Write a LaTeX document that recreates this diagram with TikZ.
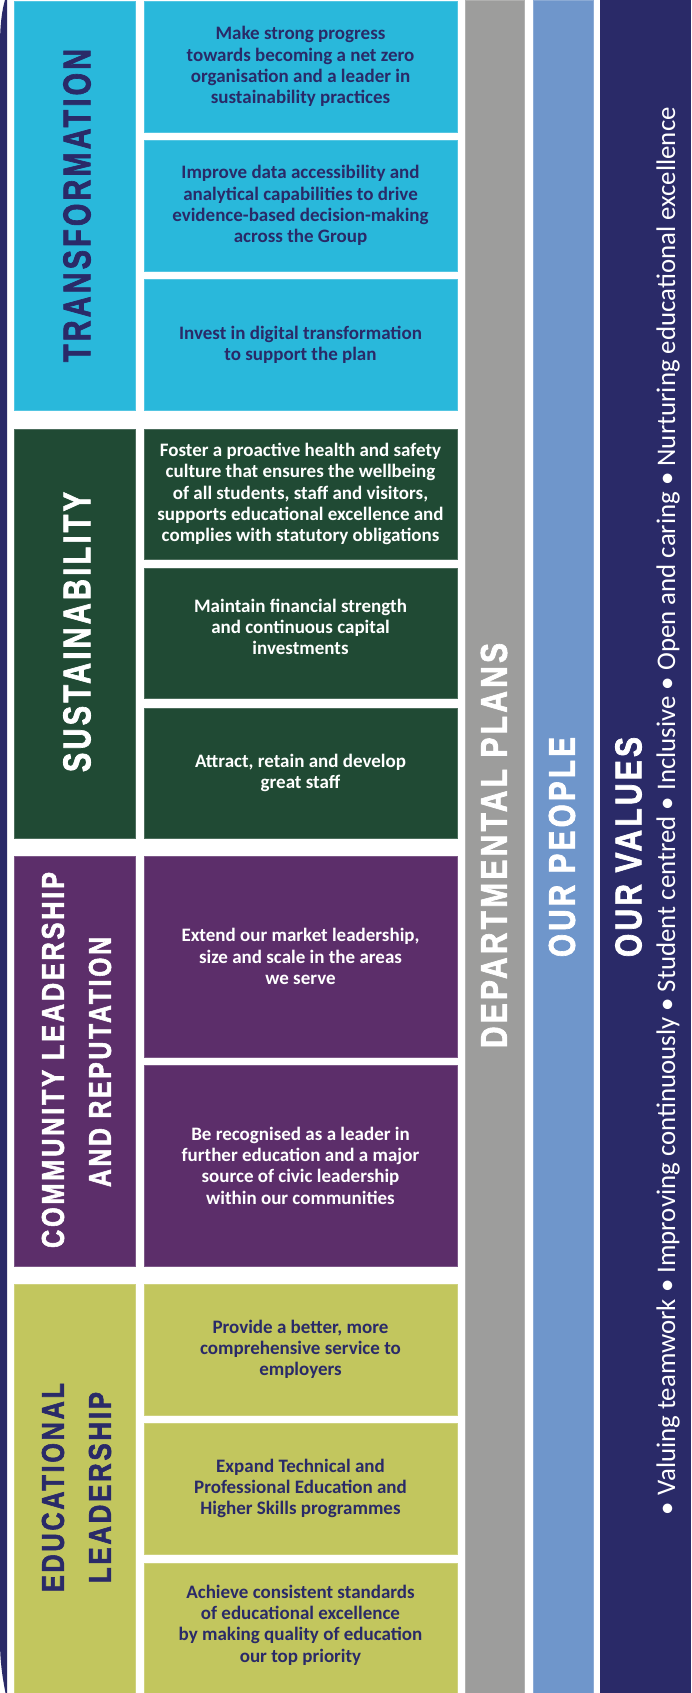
\documentclass[tikz,border=0pt]{standalone}
\usepackage{fontspec}
\usepackage{graphicx}
\newfontfamily\boxfont{Carlito}
\newfontfamily\headfont[LetterSpace=11,FakeBold=2.2]{Liberation Sans}
\newfontfamily\valfont{Carlito}
\definecolor{cyanb}{HTML}{29B8DB}
\definecolor{greenb}{HTML}{204A34}
\definecolor{purpleb}{HTML}{5C2E6A}
\definecolor{oliveb}{HTML}{C2C65E}
\definecolor{navyb}{HTML}{2A2A68}
\definecolor{grayb}{HTML}{9D9D9C}
\definecolor{blueb}{HTML}{6F96CB}
\tikzset{
  blk/.style={rectangle, inner sep=0pt, outer sep=0pt, line width=0.7pt},
  lab/.style={blk, minimum width=120.4pt, minimum height=409pt},
  obj/.style={blk, minimum width=313pt, minimum height=131pt},
  objtall/.style={blk, minimum width=313pt, minimum height=201pt},
  col/.style={blk, minimum height=1693pt},
  txtn/.style={align=center, inner sep=0pt, text=navyb, font=\boxfont\bfseries\fontsize{19}{21.3}\selectfont},
  txtw/.style={txtn, text=white},
  head/.style={rotate=90, inner sep=0pt}
}
\newcommand{\hd}[3]{\resizebox{#1pt}{#2pt}{\headfont\bfseries #3}}
\begin{document}
\begin{tikzpicture}[x=1pt,y=-1pt]
\useasboundingbox (0,0) rectangle (691,1693);
\fill[white] (0,0) rectangle (691,1693);
% left navy sliver
\fill[navyb] (7,0) -- (7,1693) -- (5.5,1693) .. controls (2,1675) and (0,1660) .. (0,1640) -- (0,45) .. controls (0,25) and (2,10) .. (5,0) -- cycle;

% right columns
\node[col, minimum width=59pt, fill=grayb, draw=grayb!80!white] (dep) at (494.5,846.5) {};
\node[col, minimum width=60pt, fill=blueb, draw=blueb!80!white] (peo) at (563,846.5) {};
\node[col, minimum width=91pt, fill=navyb] (val) at (645.5,846.5) {};

% Transformation
\node[lab, fill=cyanb, draw=cyanb!80!white] (ltr) at (74.8,205.5) {};
\node[obj, fill=cyanb, draw=cyanb!80!white] (t1) at (300.5,66.5) {};
\node[obj, fill=cyanb, draw=cyanb!80!white] (t2) at (300.5,205.5) {};
\node[obj, fill=cyanb, draw=cyanb!80!white] (t3) at (300.5,344.5) {};
% Sustainability
\node[lab, fill=greenb, draw=greenb!80!white] (lsu) at (74.8,633.5) {};
\node[obj, fill=greenb, draw=greenb!80!white, minimum height=130pt] (s1) at (300.5,494) {};
\node[obj, fill=greenb, draw=greenb!80!white, minimum height=130pt] (s2) at (300.5,633) {};
\node[obj, fill=greenb, draw=greenb!80!white, minimum height=130pt] (s3) at (300.5,773) {};
% Community
\node[lab, fill=purpleb, draw=purpleb!80!white, minimum height=410pt] (lco) at (74.8,1061) {};
\node[objtall, fill=purpleb, draw=purpleb!80!white] (c1) at (300.5,956.5) {};
\node[objtall, fill=purpleb, draw=purpleb!80!white] (c2) at (300.5,1165.5) {};
% Educational
\node[lab, fill=oliveb, draw=oliveb!80!white] (led) at (74.8,1488.5) {};
\node[obj, fill=oliveb, draw=oliveb!80!white] (e1) at (300.5,1349.5) {};
\node[obj, fill=oliveb, draw=oliveb!80!white] (e2) at (300.5,1488.5) {};
\node[obj, fill=oliveb, draw=oliveb!80!white, minimum height=130pt] (e3) at (300.5,1628) {};

% box texts
\node[txtn] (t1t) at (t1.center) {Make strong progress\\towards becoming a net zero\\organisation and a leader in\\sustainability practices};
\node[txtn] (t2t) at (t2.center) {Improve data accessibility and\\analytical capabilities to drive\\evidence-based decision-making\\across the Group};
\node[txtn] (t3t) at (t3.center) {Invest in digital transformation\\to support the plan};
\node[txtw] (s1t) at (s1.center) {Foster a proactive health and safety\\culture that ensures the wellbeing\\of all students, staff and visitors,\\supports educational excellence and\\complies with statutory obligations};
\node[txtw, yshift=6pt] (s2t) at (s2.center) {Maintain financial strength\\and continuous capital\\investments};
\node[txtw] (s3t) at (s3.center) {Attract, retain and develop\\great staff};
\node[txtw] (c1t) at (c1.center) {Extend our market leadership,\\size and scale in the areas\\we serve};
\node[txtw] (c2t) at (c2.center) {Be recognised as a leader in\\further education and a major\\source of civic leadership\\within our communities};
\node[txtn] (e1t) at (e1.center) {Provide a better, more\\comprehensive service to\\employers};
\node[txtn] (e2t) at (e2.center) {Expand Technical and\\Professional Education and\\Higher Skills programmes};
\node[txtn, yshift=3pt] (e3t) at (e3.center) {Achieve consistent standards\\of educational excellence\\by making quality of education\\our top priority};

% headings
\node[head, text=navyb] (htr) at (77,205.5) {\hd{313}{27}{TRANSFORMATION}};
\node[head, text=white] (hsu) at (77,632) {\hd{280}{27}{SUSTAINABILITY}};
\node[head, text=white] (hco1) at (53,1060) {\hd{376}{22}{COMMUNITY LEADERSHIP}};
\node[head, text=white] (hco2) at (100,1062) {\hd{250}{22}{AND REPUTATION}};
\node[head, text=navyb] (hed1) at (53,1487.5) {\hd{209}{22}{EDUCATIONAL}};
\node[head, text=navyb] (hed2) at (100,1487.5) {\hd{191}{22}{LEADERSHIP}};
\node[head, text=white] (hdep) at (494,845.5) {\hd{405}{26}{DEPARTMENTAL PLANS}};
\node[head, text=white] (hpeo) at (562,847) {\hd{220}{26}{OUR PEOPLE}};
\node[head, text=white] (hval) at (628.5,847) {\hd{220}{26}{OUR VALUES}};
\node[rotate=90, anchor=base, inner sep=0pt, text=white] (vals) at (675,811) {\resizebox{1408pt}{!}{\valfont • Valuing teamwork • Improving continuously • Student centred • Inclusive • Open and caring • Nurturing educational excellence}};
\end{tikzpicture}
\end{document}
